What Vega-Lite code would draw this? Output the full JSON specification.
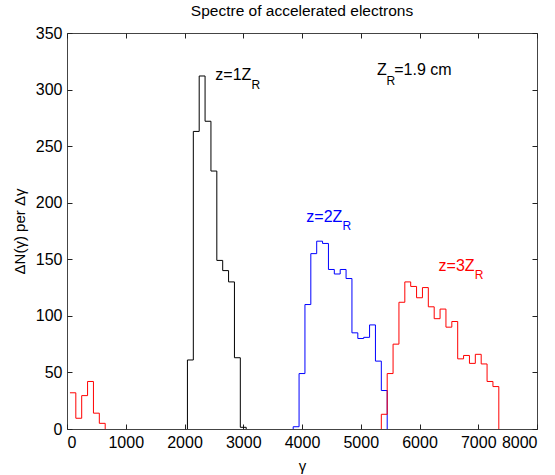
{
  "$schema": "https://vega.github.io/schema/vega-lite/v6.json",
  "width": 470,
  "height": 396,
  "autosize": {"type": "none"},
  "padding": {"left": 67, "top": 33, "right": 18, "bottom": 46},
  "background": "white",
  "config": {
    "font": "Liberation Sans",
    "view": {"stroke": "#444444", "strokeWidth": 1},
    "axis": {
      "grid": false,
      "domain": false,
      "tickColor": "#222222",
      "tickSize": -5,
      "labelColor": "black",
      "labelFontSize": 16,
      "titleColor": "black",
      "titleFontSize": 15,
      "titleFontWeight": "normal"
    }
  },
  "title": {
    "text": "Spectre of accelerated electrons",
    "fontSize": 15.5,
    "fontWeight": "normal",
    "color": "black",
    "offset": 6
  },
  "datasets": {
    "hist": [
      {"series": "z1", "seg": "z1a", "i": 1, "x": 2050, "n": 0},
      {"series": "z1", "seg": "z1a", "i": 2, "x": 2050, "n": 61},
      {"series": "z1", "seg": "z1a", "i": 3, "x": 2150, "n": 263},
      {"series": "z1", "seg": "z1a", "i": 4, "x": 2250, "n": 312},
      {"series": "z1", "seg": "z1a", "i": 5, "x": 2350, "n": 272},
      {"series": "z1", "seg": "z1a", "i": 6, "x": 2450, "n": 228},
      {"series": "z1", "seg": "z1a", "i": 7, "x": 2550, "n": 149},
      {"series": "z1", "seg": "z1a", "i": 8, "x": 2650, "n": 140},
      {"series": "z1", "seg": "z1a", "i": 9, "x": 2750, "n": 130},
      {"series": "z1", "seg": "z1a", "i": 10, "x": 2850, "n": 63},
      {"series": "z1", "seg": "z1a", "i": 11, "x": 2950, "n": 1.5},
      {"series": "z1", "seg": "z1a", "i": 12, "x": 3050, "n": 0},
      {"series": "z2", "seg": "z2a", "i": 13, "x": 3850, "n": 0},
      {"series": "z2", "seg": "z2a", "i": 14, "x": 3850, "n": 2},
      {"series": "z2", "seg": "z2a", "i": 15, "x": 3950, "n": 49},
      {"series": "z2", "seg": "z2a", "i": 16, "x": 4050, "n": 110},
      {"series": "z2", "seg": "z2a", "i": 17, "x": 4150, "n": 155},
      {"series": "z2", "seg": "z2a", "i": 18, "x": 4250, "n": 166},
      {"series": "z2", "seg": "z2a", "i": 19, "x": 4350, "n": 164},
      {"series": "z2", "seg": "z2a", "i": 20, "x": 4450, "n": 141},
      {"series": "z2", "seg": "z2a", "i": 21, "x": 4550, "n": 137},
      {"series": "z2", "seg": "z2a", "i": 22, "x": 4650, "n": 141},
      {"series": "z2", "seg": "z2a", "i": 23, "x": 4750, "n": 133},
      {"series": "z2", "seg": "z2a", "i": 24, "x": 4850, "n": 85},
      {"series": "z2", "seg": "z2a", "i": 25, "x": 4950, "n": 80},
      {"series": "z2", "seg": "z2a", "i": 26, "x": 5050, "n": 81},
      {"series": "z2", "seg": "z2a", "i": 27, "x": 5150, "n": 92},
      {"series": "z2", "seg": "z2a", "i": 28, "x": 5250, "n": 60},
      {"series": "z2", "seg": "z2a", "i": 29, "x": 5350, "n": 34},
      {"series": "z2", "seg": "z2a", "i": 30, "x": 5450, "n": 0},
      {"series": "z3", "seg": "z3a", "i": 31, "x": 50, "n": 32},
      {"series": "z3", "seg": "z3a", "i": 32, "x": 150, "n": 9.5},
      {"series": "z3", "seg": "z3a", "i": 33, "x": 250, "n": 29.5},
      {"series": "z3", "seg": "z3a", "i": 34, "x": 350, "n": 42},
      {"series": "z3", "seg": "z3a", "i": 35, "x": 450, "n": 14},
      {"series": "z3", "seg": "z3a", "i": 36, "x": 550, "n": 5},
      {"series": "z3", "seg": "z3a", "i": 37, "x": 650, "n": 0},
      {"series": "z3", "seg": "z3b", "i": 38, "x": 5350, "n": 0},
      {"series": "z3", "seg": "z3b", "i": 39, "x": 5350, "n": 13},
      {"series": "z3", "seg": "z3b", "i": 40, "x": 5450, "n": 49},
      {"series": "z3", "seg": "z3b", "i": 41, "x": 5550, "n": 75},
      {"series": "z3", "seg": "z3b", "i": 42, "x": 5650, "n": 112},
      {"series": "z3", "seg": "z3b", "i": 43, "x": 5750, "n": 130},
      {"series": "z3", "seg": "z3b", "i": 44, "x": 5850, "n": 126},
      {"series": "z3", "seg": "z3b", "i": 45, "x": 5950, "n": 116},
      {"series": "z3", "seg": "z3b", "i": 46, "x": 6050, "n": 125},
      {"series": "z3", "seg": "z3b", "i": 47, "x": 6150, "n": 108},
      {"series": "z3", "seg": "z3b", "i": 48, "x": 6250, "n": 97.5},
      {"series": "z3", "seg": "z3b", "i": 49, "x": 6350, "n": 106},
      {"series": "z3", "seg": "z3b", "i": 50, "x": 6450, "n": 90},
      {"series": "z3", "seg": "z3b", "i": 51, "x": 6550, "n": 95},
      {"series": "z3", "seg": "z3b", "i": 52, "x": 6650, "n": 62},
      {"series": "z3", "seg": "z3b", "i": 53, "x": 6750, "n": 65},
      {"series": "z3", "seg": "z3b", "i": 54, "x": 6850, "n": 58},
      {"series": "z3", "seg": "z3b", "i": 55, "x": 6950, "n": 66},
      {"series": "z3", "seg": "z3b", "i": 56, "x": 7050, "n": 57.5},
      {"series": "z3", "seg": "z3b", "i": 57, "x": 7150, "n": 42},
      {"series": "z3", "seg": "z3b", "i": 58, "x": 7250, "n": 37.5},
      {"series": "z3", "seg": "z3b", "i": 59, "x": 7350, "n": 0}
    ],
    "labels": [
      {"series": "z1", "t": "z=1Z", "x": 2524, "n": 313},
      {"series": "z2", "t": "z=2Z", "x": 4073, "n": 187},
      {"series": "z3", "t": "z=3Z", "x": 6325, "n": 144},
      {"series": "info", "t": "Z", "x": 5277, "n": 317},
      {"series": "info", "t": "=1.9 cm", "x": 5570, "n": 317}
    ],
    "subs": [
      {"series": "z1", "t": "R", "x": 3140, "n": 304},
      {"series": "z2", "t": "R", "x": 4690, "n": 179},
      {"series": "z3", "t": "R", "x": 6942, "n": 136},
      {"series": "info", "t": "R", "x": 5440, "n": 308}
    ]
  },
  "layer": [
    {
      "data": {"name": "hist"},
      "mark": {"type": "line", "interpolate": "step-after", "strokeWidth": 1},
      "encoding": {
        "x": {
          "field": "x", "type": "quantitative",
          "scale": {"domain": [0, 8000], "nice": false, "zero": false},
          "axis": {"orient": "bottom", "values": [0, 1000, 2000, 3000, 4000, 5000, 6000, 7000, 8000], "labelPadding": 10, "title": "γ", "titlePadding": 8, "format": "d"}
        },
        "y": {
          "field": "n", "type": "quantitative",
          "scale": {"domain": [0, 350], "nice": false},
          "axis": {"orient": "left", "values": [0, 50, 100, 150, 200, 250, 300, 350], "labelPadding": 10, "title": "ΔN(γ) per Δγ", "titlePadding": 8}
        },
        "color": {
          "field": "series", "type": "nominal",
          "scale": {"domain": ["z1", "z2", "z3", "info"], "range": ["#000000", "#0000ff", "#ff0000", "#000000"]},
          "legend": null
        },
        "detail": {"field": "seg"},
        "order": {"field": "i", "type": "quantitative"}
      }
    },
    {
      "data": {"name": "labels"},
      "mark": {"type": "text", "align": "left", "baseline": "middle", "fontSize": 16},
      "encoding": {
        "x": {"field": "x", "type": "quantitative", "axis": {"orient": "top", "values": [0, 1000, 2000, 3000, 4000, 5000, 6000, 7000, 8000], "labels": false, "title": null}},
        "y": {"field": "n", "type": "quantitative", "axis": {"orient": "right", "values": [0, 50, 100, 150, 200, 250, 300, 350], "labels": false, "title": null}},
        "text": {"field": "t"},
        "color": {"field": "series", "type": "nominal", "legend": null}
      }
    },
    {
      "data": {"name": "subs"},
      "mark": {"type": "text", "align": "left", "baseline": "middle", "fontSize": 12},
      "encoding": {
        "x": {"field": "x", "type": "quantitative", "axis": null},
        "y": {"field": "n", "type": "quantitative", "axis": null},
        "text": {"field": "t"},
        "color": {"field": "series", "type": "nominal", "legend": null}
      }
    }
  ],
  "resolve": {"axis": {"x": "independent", "y": "independent"}}
}
